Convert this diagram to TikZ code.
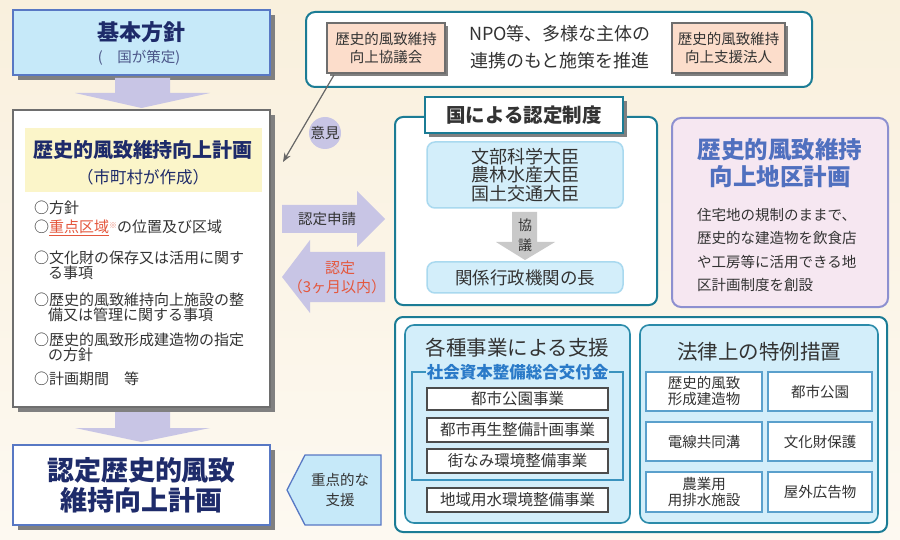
\documentclass[tikz,border=0pt]{standalone}
\usepackage{fontspec}
\setmainfont{Noto Sans CJK JP}
\usetikzlibrary{shadows,calc,arrows.meta}
\definecolor{bgtop}{HTML}{F9F0DD}
\definecolor{bgbot}{HTML}{FDF9F1}
\definecolor{navy}{HTML}{1E2B6A}
\definecolor{kfill}{HTML}{C6E9F9}
\definecolor{kborder}{HTML}{5878C4}
\definecolor{lav}{HTML}{C8C5E5}
\definecolor{teal}{HTML}{1B7C95}
\definecolor{salmon}{HTML}{FCDDCB}
\definecolor{lblue}{HTML}{D3EEFA}
\definecolor{lbborder}{HTML}{A9D9EF}
\definecolor{pinkfill}{HTML}{F6E7F1}
\definecolor{pinkborder}{HTML}{8D90D0}
\definecolor{pinktitle}{HTML}{5070BF}
\definecolor{redtxt}{HTML}{E4573D}
\definecolor{brk}{HTML}{3A93BE}
\definecolor{brktxt}{HTML}{2A7AC8}
\definecolor{cellb}{HTML}{5AA0CC}
\definecolor{txt}{HTML}{333333}
\definecolor{shadowgray}{HTML}{808080}
\definecolor{planborder}{HTML}{6E6E6E}
\definecolor{hdryellow}{HTML}{FBF5C9}
\definecolor{grayarrow}{HTML}{C9C9C9}
\definecolor{kaku}{HTML}{2B8BAA}
\newcommand\fsz[2]{\fontsize{#1}{#2}\selectfont}
\begin{document}
\begin{tikzpicture}[x=1pt,y=-1pt,
  shd/.style={drop shadow={shadow xshift=5pt,shadow yshift=-5pt,fill=shadowgray,opacity=1}},
  shdsmall/.style={drop shadow={shadow xshift=3pt,shadow yshift=-3pt,fill=shadowgray,opacity=1}},
  box/.style={rectangle,inner sep=0pt},
  lbl/.style={inner sep=0pt,text=txt},
  item/.style={inner sep=0pt,anchor=west,text=txt,font=\fsz{15}{18}},
  fat/.style={fill=lav,draw=none},
  salmonbox/.style={box,fill=salmon,draw=planborder,line width=2pt,shdsmall,minimum height=50pt,align=center,text=txt,font=\fsz{14.5}{18}},
  lbbox/.style={box,rounded corners=8pt,fill=lblue,draw=lbborder,line width=1.5pt},
  wbox/.style={box,fill=white,draw=black!70,line width=1.2pt,minimum width=181pt,minimum height=24pt,font=\fsz{15.5}{18},text=txt},
  cell/.style={box,fill=white,draw=cellb,line width=1.4pt,minimum height=39pt,align=center,font=\fsz{14.5}{16},text=txt},
  tealbox/.style={box,rounded corners=8pt,fill=white,draw=teal,line width=2pt}
]
\useasboundingbox (0,0) rectangle (900,540);
\shade[top color=bgtop,bottom color=bgbot] (0,0) rectangle (900,540);

% ---------- left column ----------
\node[box,fill=kfill,draw=kborder,line width=2.5pt,shd,minimum width=257pt,minimum height=65pt] (kihon) at (141.5,42.5) {};
\node[lbl,text=navy,font=\fsz{22}{26}\bfseries] (k1) at (141.5,32) {基本方針};
\node[lbl,text=navy!80,font=\fsz{14.5}{17}] (k2) at (139,58) {(　国が策定)};

\fill[fat] (115,78) -- (170,78) -- (170,93) -- (210,93) -- (141.5,108) -- (75,93) -- (115,93) -- cycle;

\node[box,fill=white,draw=planborder,line width=2.5pt,shd,minimum width=257pt,minimum height=297pt] (plan) at (141.5,258.5) {};
\node[box,fill=hdryellow,minimum width=237pt,minimum height=64pt] (planhdr) at (143.5,160) {};
\node[lbl,text=navy,font=\fsz{20}{24}\bfseries] (p1) at (143,150) {歴史的風致維持向上計画};
\node[lbl,text=navy,font=\fsz{16.5}{20}] (p2) at (143,177) {（市町村が作成）};

\node[item] (i1) at (34,208) {○方針};
\node[item] (i2) at (34,228) {○\textcolor{redtxt}{\underline{重点区域}}\textcolor{redtxt!70}{\raisebox{4pt}{\fsz{8}{8}※}}の位置及び区域};
\node[item] (i3a) at (34,258) {○文化財の保存又は活用に関す};
\node[item] (i3b) at (48,273) {る事項};
\node[item] (i4a) at (34,300) {○歴史的風致維持向上施設の整};
\node[item] (i4b) at (48,315) {備又は管理に関する事項};
\node[item] (i5a) at (34,340) {○歴史的風致形成建造物の指定};
\node[item] (i5b) at (48,355) {の方針};
\node[item] (i6) at (34,379) {○計画期間　等};

\fill[fat] (115,412) -- (170,412) -- (170,428) -- (210,428) -- (141.5,442) -- (75,428) -- (115,428) -- cycle;

\node[box,fill=white,draw=kborder,line width=2.5pt,shd,minimum width=257pt,minimum height=80pt] (nintei) at (141.5,485) {};
\node[lbl,text=navy,font=\fsz{27}{30}\bfseries] (n1) at (141.5,470) {認定歴史的風致};
\node[lbl,text=navy,font=\fsz{27}{30}\bfseries] (n2) at (141.5,500) {維持向上計画};

% 重点的な支援 arrow
\draw[fill=kfill,draw=kborder,line width=1.3pt] (287,490) -- (305,455) -- (381,455) -- (381,525) -- (305,525) -- cycle;
\node[lbl,align=center,font=\fsz{14.5}{20}] (jyuten) at (340,490) {重点的な\\支援};

% ---------- top NPO box ----------
\node[tealbox,rounded corners=9pt,minimum width=506pt,minimum height=75pt] (npo) at (559,49.5) {};
\node[salmonbox,minimum width=118pt] (kyogi) at (386,48) {歴史的風致維持\\向上協議会};
\node[salmonbox,minimum width=113pt] (shien) at (728.5,48) {歴史的風致維持\\向上支援法人};
\node[lbl,align=center,font=\fsz{18}{27}] (npotxt) at (560,47) {NPO等、多様な主体の\\連携のもと施策を推進};

% 意見
\coordinate (ikenend) at (283,162);
\draw[draw=black!60,line width=1.2pt,-{Stealth[length=9pt,width=7pt]}] ($(kyogi.south west)+(8,1)$) -- (ikenend);
\node[circle,fill=lav,minimum size=32pt,inner sep=0pt,font=\fsz{14.5}{17},text=txt] (iken) at (325,133) {意見};

% 認定申請 / 認定 arrows
\fill[fat] (282,205) -- (357,205) -- (357,191) -- (385,219) -- (357,247) -- (357,233) -- (282,233) -- cycle;
\node[lbl,font=\fsz{14.5}{17}] (shinsei) at (327,219) {認定申請};
\fill[fat] (385,252) -- (310,252) -- (310,240) -- (282,277) -- (310,313) -- (310,302) -- (385,302) -- cycle;
\node[lbl,text=redtxt,font=\fsz{15}{18}] (nin1) at (340,268) {認定};
\node[lbl,text=redtxt,font=\fsz{15}{18}] (nin2) at (337,287) {（3ヶ月以内）};

% ---------- 国による認定制度 ----------
\node[tealbox,minimum width=262pt,minimum height=188pt] (kuni) at (526,211) {};
\node[box,fill=white,draw=teal,line width=2.5pt,drop shadow={shadow xshift=4pt,shadow yshift=-4pt,fill=shadowgray,opacity=1},minimum width=198pt,minimum height=36pt,font=\fsz{19.5}{22}\bfseries,text=txt] (kunihdr) at (524,115) {国による認定制度};
\node[lbbox,minimum width=196pt,minimum height=66pt,align=center,font=\fsz{18}{18.5},text=txt] (daijin) at (525,175) {文部科学大臣\\農林水産大臣\\国土交通大臣};
\node[lbbox,minimum width=196pt,minimum height=31pt,font=\fsz{17.5}{20},text=txt] (kankei) at (525,277.5) {関係行政機関の長};
\fill[grayarrow] (512,212) -- (537,212) -- (537,242) -- (555,242) -- (525,260) -- (496,242) -- (512,242) -- cycle;
\node[lbl,font=\fsz{14}{16}] (kyo1) at (525,225) {協};
\node[lbl,font=\fsz{14}{16}] (kyo2) at (525,245) {議};

% ---------- 地区計画 ----------
\node[box,rounded corners=9pt,fill=pinkfill,draw=pinkborder,line width=2pt,minimum width=216pt,minimum height=189pt] (chiku) at (780,212.5) {};
\node[lbl,text=pinktitle,align=center,font=\fsz{23.5}{27}\bfseries] (chikut) at (780,163.5) {歴史的風致維持\\向上地区計画};
\node[lbl,anchor=north west,align=left,font=\fsz{14.5}{23.3}] (chikub) at (697,208) {住宅地の規制のままで、\\歴史的な建造物を飲食店\\や工房等に活用できる地\\区計画制度を創設};

% ---------- bottom support ----------
\node[tealbox,minimum width=492pt,minimum height=215pt] (bottom) at (641,424.5) {};
\node[box,rounded corners=9pt,fill=lblue,draw=kaku,line width=1.6pt,minimum width=225pt,minimum height=198pt] (kakushu) at (517.5,424) {};
\node[lbl,font=\fsz{20.5}{24}] (kakut) at (517.5,348) {各種事業による支援};
\draw[brk,line width=1.3pt] (412,372) rectangle (623,480);
\node[fill=lblue,inner xsep=1pt,inner ysep=1pt,text=brktxt,font=\fsz{16.5}{19}\bfseries] (kofu) at (517.5,372) {社会資本整備総合交付金};
\node[wbox,minimum height=22pt] (b1) at (517.5,399) {都市公園事業};
\node[wbox] (b2) at (517.5,430) {都市再生整備計画事業};
\node[wbox] (b3) at (517.5,461) {街なみ環境整備事業};
\node[wbox] (b4) at (517.5,500) {地域用水環境整備事業};

\node[box,rounded corners=9pt,fill=lblue,draw=kaku,line width=1.6pt,minimum width=238pt,minimum height=198pt] (houritsu) at (759,424) {};
\node[lbl,font=\fsz{20.5}{24}] (hout) at (759,352) {法律上の特例措置};
\node[cell,minimum width=116pt] (c11) at (704,391.5) {歴史的風致\\形成建造物};
\node[cell,minimum width=104pt] (c12) at (820,391.5) {都市公園};
\node[cell,minimum width=116pt] (c21) at (704,441.5) {電線共同溝};
\node[cell,minimum width=104pt] (c22) at (820,441.5) {文化財保護};
\node[cell,minimum width=116pt,minimum height=40pt] (c31) at (704,492) {農業用\\用排水施設};
\node[cell,minimum width=104pt,minimum height=40pt] (c32) at (820,492) {屋外広告物};
\end{tikzpicture}
\end{document}
